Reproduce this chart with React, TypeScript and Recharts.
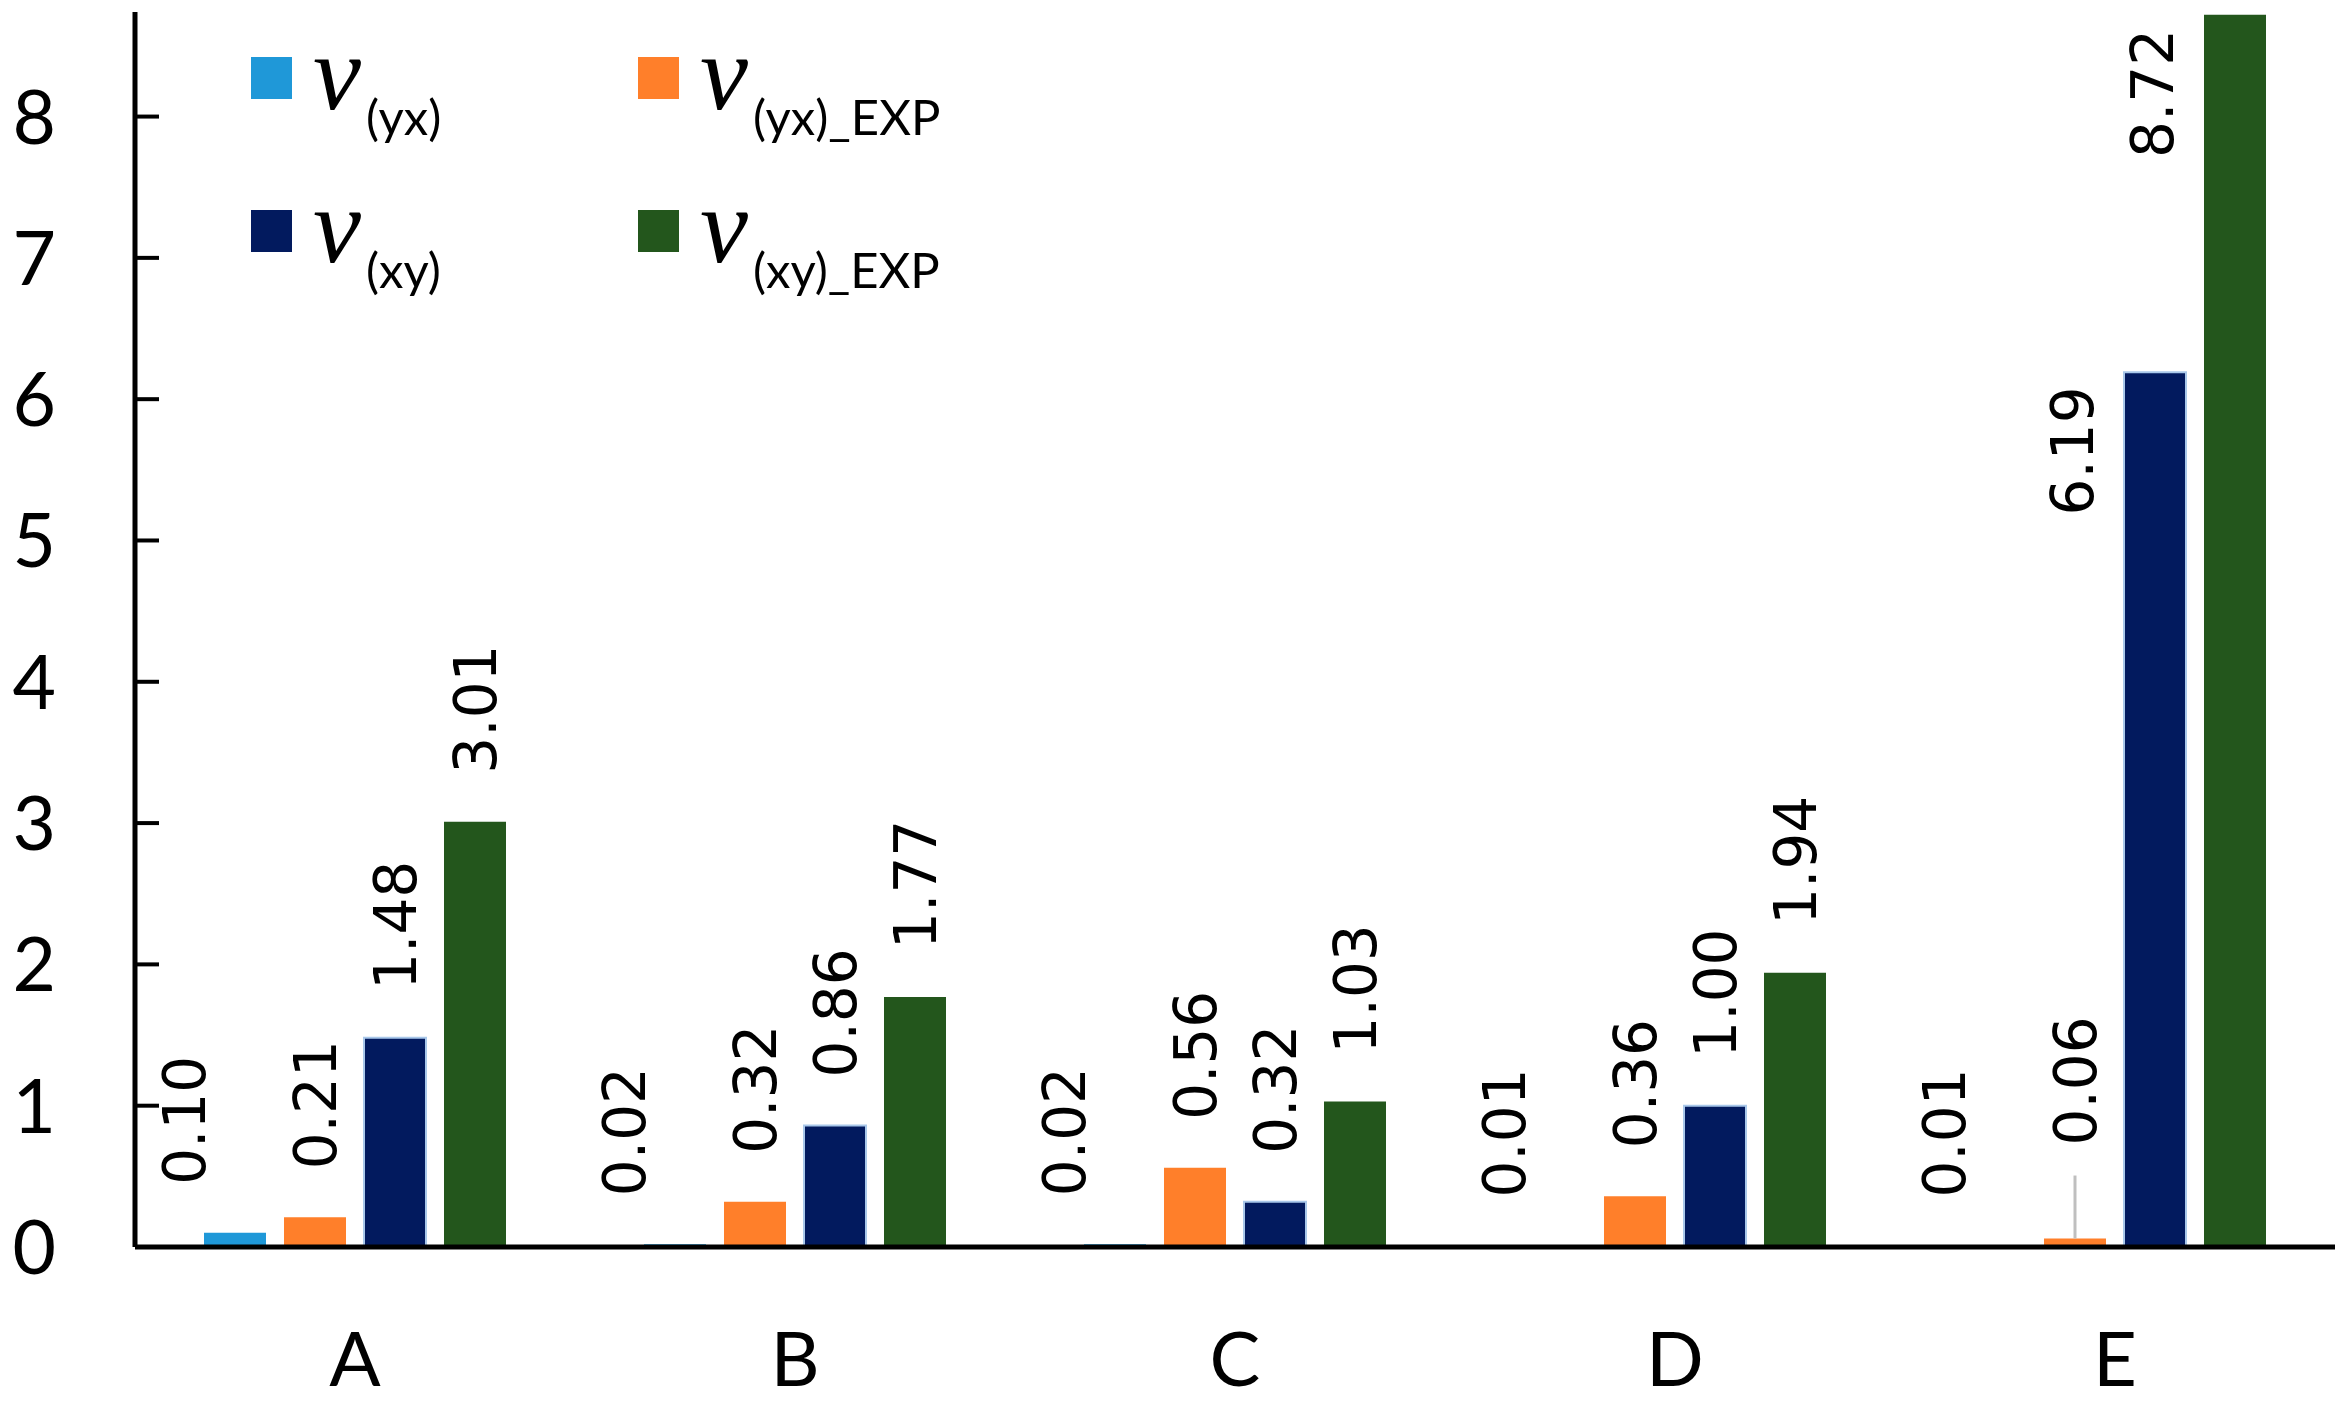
import React from 'react';
import { BarChart, Bar, XAxis, YAxis, Legend, LabelList } from 'recharts';

const categories = ['A', 'B', 'C', 'D', 'E'];
const nuYx = [0.1, 0.02, 0.02, 0.01, 0.01];
const nuYxExp = [0.21, 0.32, 0.56, 0.36, 0.06];
const nuXy = [1.48, 0.86, 0.32, 1.0, 6.19];
const nuXyExp = [3.01, 1.77, 1.03, 1.94, 8.72];
const yTicks = [0, 1, 2, 3, 4, 5, 6, 7, 8];

const seriesKeys = ['yx', 'yxExp', 'xy', 'xyExp'];
const seriesSubs = ['(yx)', '(yx)_EXP', '(xy)', '(xy)_EXP'];
const seriesColors = ['#1F98D8', '#FF7F2A', '#021A5E', '#23561C'];

const data = categories.map((c, i) => ({
  cat: c,
  yx: nuYx[i],
  yxExp: nuYxExp[i],
  xy: nuXy[i],
  xyExp: nuXyExp[i],
}));

const LABEL_FONT = "'DejaVu Sans', 'Verdana', sans-serif";
const AXIS_FONT = "Lato, 'Open Sans', sans-serif";

function makeLabel(series: string) {
  return (props: any) => {
    const vb = props.viewBox || {};
    const x = props.x ?? vb.x;
    const y = props.y ?? vb.y;
    const width = props.width ?? vb.width;
    const { value, index } = props;
    const cat = categories[index];
    const text = Number(value).toFixed(2);
    let cx = x + width / 2;
    let yb = y - 48;
    let anchor: 'start' | 'end' = 'start';
    let leader: any = null;
    if (series === 'yx') cx = x + width / 2 - 51;
    if (series === 'yxExp' && cat === 'E') {
      yb = y - 93;
      leader = (
        <line x1={x + width / 2} x2={x + width / 2} y1={y} y2={y - 63} stroke="#BFBFBF" strokeWidth={3} />
      );
    }
    if ((series === 'xy' || series === 'xyExp') && cat === 'E') {
      cx = x - 52;
      yb = y + 14;
      anchor = 'end';
    }
    return (
      <g>
        {leader}
        <g transform={`translate(${cx},${yb}) rotate(-90)`}>
          <text x={0} y={0} dy="0.36em" textAnchor={anchor} fontSize={58} fontFamily={LABEL_FONT} fill="#000">
            {text}
          </text>
        </g>
      </g>
    );
  };
}

const YTick = (props: any) => {
  const { x, y, payload } = props;
  return (
    <g>
      {payload.value !== 0 && <line x1={x} x2={x + 24} y1={y} y2={y} stroke="#000" strokeWidth={4} />}
      <text x={x - 79} y={y} dy="0.36em" textAnchor="end" fontSize={75} fontFamily={AXIS_FONT} fill="#000">
        {payload.value}
      </text>
    </g>
  );
};

const legendCols = [251, 638];
const legendRows = [57, 210];

const LegendContent = (props: any) => {
  const payload = props.payload || [];
  return (
    <svg width={1000} height={320} style={{ display: 'block' }}>
      {payload.map((p: any, i: number) => {
        const idx = seriesKeys.indexOf(p.dataKey);
        const k = idx >= 0 ? idx : i;
        const sx = legendCols[k % 2];
        const sy = legendRows[Math.floor(k / 2)];
        return (
          <g key={k}>
            <rect x={sx} y={sy} width={41} height={42} fill={p.color} />
            <text x={sx + 62} y={sy + 52} fontSize={108} fontStyle="italic" fontFamily="'Liberation Serif', 'DejaVu Serif', serif" fill="#000">
              ν
            </text>
            <text x={sx + 115} y={sy + 78} fontSize={49} fontFamily={AXIS_FONT} fill="#000">
              {seriesSubs[k]}
            </text>
          </g>
        );
      })}
    </svg>
  );
};

export default function App() {
  return (
    <div style={{ position: 'absolute', left: 0, top: 0, width: 2348, height: 1408, background: '#fff' }}>
      <BarChart
        width={2348}
        height={1408}
        data={data}
        margin={{ top: 12, right: 13, bottom: 0, left: 0 }}
        barSize={62}
        barGap={18}
      >
        <XAxis
          dataKey="cat"
          height={161}
          axisLine={{ stroke: '#000', strokeWidth: 5 }}
          tickLine={false}
          tickSize={0}
          tickMargin={85}
          interval={0}
          tick={{ fontSize: 76, fill: '#000', fontFamily: AXIS_FONT }}
        />
        <YAxis
          width={135}
          domain={[0, 8.74]}
          ticks={yTicks}
          interval={0}
          allowDataOverflow
          axisLine={{ stroke: '#000', strokeWidth: 5 }}
          tickLine={false}
          tickSize={0}
          tickMargin={0}
          tick={<YTick />}
        />
        <Legend
          layout="horizontal"
          verticalAlign="middle"
          align="center"
          content={<LegendContent />}
          wrapperStyle={{ left: 0, top: 0, width: 1000, height: 320 }}
        />
        {seriesKeys.map((k, i) => (
          <Bar
            key={k}
            dataKey={k}
            name={seriesSubs[i]}
            fill={seriesColors[i]}
            stroke={k === 'xy' ? '#A9C8EA' : undefined}
            strokeWidth={k === 'xy' ? 2 : 0}
            isAnimationActive={false}
          >
            <LabelList dataKey={k} content={makeLabel(k)} />
          </Bar>
        ))}
      </BarChart>
    </div>
  );
}
